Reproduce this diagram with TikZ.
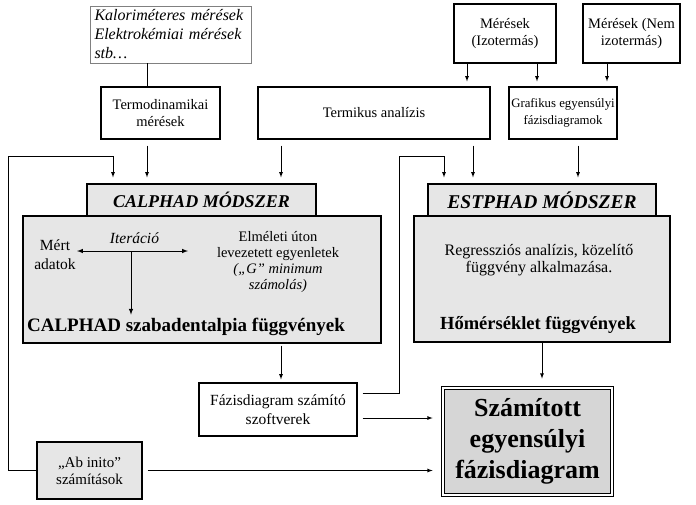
\documentclass[tikz,border=0pt]{standalone}
\usepackage{fontspec}
\setmainfont{Liberation Serif}
\usepackage{tikz}
\definecolor{panelgray}{HTML}{E6E6E6}
\definecolor{resgray}{HTML}{D6D6D6}

\begin{document}
\begin{tikzpicture}[x = 1pt, y = -1pt,
  box/.style = {draw, line width = 1.2pt, fill = white, align = center, inner sep = 1pt, font = \fontsize{14.5}{17}\selectfont},
  graybox/.style = {box, fill = panelgray},
  conn/.style = {line width = 0.8pt},
  arr/.style = {conn, -latex}]
\useasboundingbox (0,0) rectangle (696,504);
\node[box, draw = gray, line width = 0.6pt, minimum width = 161pt, minimum height = 57pt, text width = 152pt, align = left, font = \fontsize{16}{19}\selectfont\itshape] (kalori) at (170.5,34.5) {Kaloriméteres mérések\\Elektrokémiai mérések\\stb\ldots};
\node[box, minimum width = 119pt, minimum height = 52pt] (termo) at (160.5,113) {Termodinamikai\\mérések};
\node[box, minimum width = 232pt, minimum height = 52pt] (termik) at (374,113) {Termikus analízis};
\node[box, minimum width = 102pt, minimum height = 59pt] (izo) at (505,33.5) {Mérések\\(Izotermás)};
\node[box, minimum width = 97pt, minimum height = 59pt] (nemizo) at (631.5,33.5) {Mérések (Nem\\izotermás)};
\node[box, minimum width = 108pt, minimum height = 52pt, font = \fontsize{12.8}{17}\selectfont] (grafikus) at (563,113) {Grafikus egyensúlyi\\fázisdiagramok};
\node[graybox, minimum width = 358pt, minimum height = 127pt] (calbox) at (202,279.5) {};
\node[graybox, minimum width = 229pt, minimum height = 32pt, font = \fontsize{18}{20}\selectfont\bfseries\itshape] (calhead) at (201.5,200) {CALPHAD MÓDSZER};
\node[graybox, minimum width = 256pt, minimum height = 126pt] (estbox) at (542,279) {};
\node[graybox, minimum width = 228pt, minimum height = 32pt, font = \fontsize{19.5}{20}\selectfont\bfseries\itshape] (esthead) at (542,200) {ESTPHAD MÓDSZER};
\node[align = center, font = \fontsize{15.5}{19}\selectfont] (mert) at (55,255) {Mért\\adatok};
\node[font = \fontsize{15.5}{19}\selectfont\itshape] (iter) at (134.5,238) {Iteráció};
\node[align = center, font = \fontsize{14.5}{16}\selectfont] (elm) at (278,262) {Elméleti úton\\levezetett egyenletek\\{\itshape („G” minimum}\\{\itshape számolás)}};
\node[font = \fontsize{19}{20}\selectfont\bfseries] (szab) at (186,327) {CALPHAD szabadentalpia függvények};
\node[align = center, font = \fontsize{16}{17}\selectfont] (regr) at (539,260) {Regressziós analízis, közelítő\\függvény alkalmazása.};
\node[font = \fontsize{18.5}{20}\selectfont\bfseries] (homer) at (538,325) {Hőmérséklet függvények};
\node[box, minimum width = 158pt, minimum height = 53pt, font = \fontsize{15.5}{19}\selectfont] (fazis) at (278,409.5) {Fázisdiagram számító\\szoftverek};
\node[graybox, minimum width = 105pt, minimum height = 57pt, font = \fontsize{15}{17}\selectfont] (abinit) at (89.5,470.5) {„Ab inito”\\számítások};
\node[graybox, fill = resgray, double, double distance = 1.8pt, minimum width = 168.6pt, minimum height = 106.6pt, font = \fontsize{26}{31}\selectfont\bfseries] (result) at (527.5,441.5) {Számított\\egyensúlyi\\fázisdiagram};
\coordinate (itl) at (77,251);
\coordinate (itr) at (188,251);
\coordinate (itm) at (131,251);
\coordinate (lfb) at (8,156);
\coordinate (rfb) at (399,156);
\coordinate (fzup) at ([xshift = 5pt, yshift = 16.5pt]fazis.east);
\coordinate (fzout) at ([xshift = 5pt, yshift = -8.5pt]fazis.east);
\coordinate (about) at ([xshift = 5pt]abinit.east);
\draw[conn, line width = 1pt, latex-latex] (itl) -- (itr);
\draw[arr, line width = 1pt] (itm) -- (itm |- szab.north);
\draw[conn] ([xshift = -23.5pt]kalori.south) -- ([xshift = -13.5pt]termo.north);
\draw[arr, shorten > = 5pt] ([xshift = -38pt]izo.south) -- ([xshift = 93pt]termik.north);
\draw[arr, shorten > = 5pt] ([xshift = 32pt]izo.south) -- ([xshift = -26pt]grafikus.north);
\draw[arr, shorten > = 5pt] ([xshift = -24.5pt]nemizo.south) -- ([xshift = 44pt]grafikus.north);
\draw[arr, shorten < = 6pt, shorten > = 6pt] ([xshift = -13.5pt]termo.south) -- ([xshift = -54.5pt]calhead.north);
\draw[arr, shorten < = 6pt, shorten > = 6pt] ([xshift = -93pt]termik.south) -- ([xshift = 79.5pt]calhead.north);
\draw[arr, shorten < = 6pt, shorten > = 6pt] ([xshift = 99pt]termik.south) -- ([xshift = -69pt]esthead.north);
\draw[arr, shorten < = 6pt, shorten > = 6pt] ([xshift = 15pt]grafikus.south) -- ([xshift = 36pt]esthead.north);
\draw[arr, shorten > = 6pt] (abinit.west) -| (lfb) -| ([xshift = -88.5pt]calhead.north);
\draw[arr, shorten > = 6pt] (fzup) -| (rfb) -| ([xshift = -98pt]esthead.north);
\draw[arr, shorten > = 10pt] (fzout) -- (fzout -| result.west);
\draw[arr, shorten > = 10pt] (about) -- (about -| result.west);
\draw[arr, shorten < = 2pt, shorten > = 3pt] ([xshift = 79pt]calbox.south) -- ([xshift = 3pt]fazis.north);
\draw[arr, shorten > = 9pt] (estbox.south) -- ([xshift = 14.5pt]result.north);
\end{tikzpicture}
\end{document}
